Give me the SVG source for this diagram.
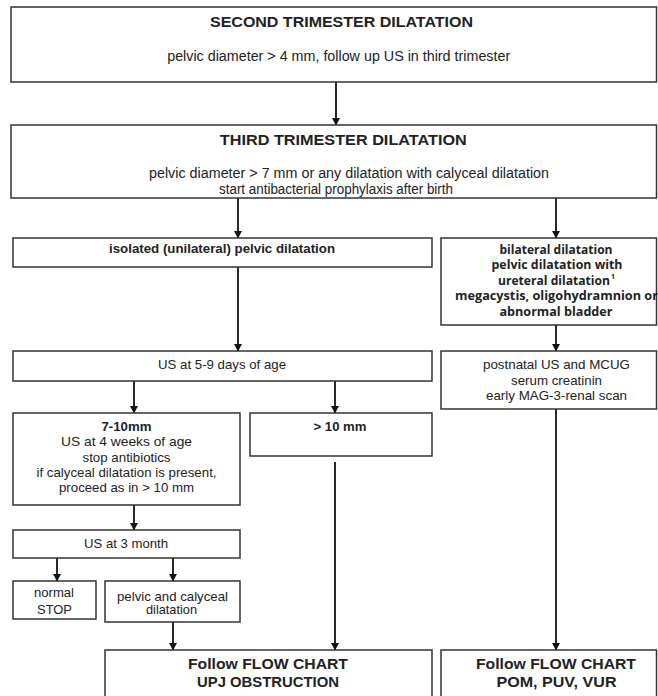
<svg xmlns="http://www.w3.org/2000/svg" width="658" height="696" viewBox="0 0 658 696">
<defs>
<marker id="ah" markerWidth="8" markerHeight="8" refX="7" refY="4" orient="auto" markerUnits="userSpaceOnUse">
<path d="M0,0 L7.5,4 L0,8 Z" fill="#111"/>
</marker>
<style>
.box{fill:#fff;stroke:#333;stroke-width:1.5}
.t{font-family:"Liberation Sans",Arial,sans-serif;fill:#222;text-anchor:middle}
.h{font-size:15.5px;font-weight:bold}
.n14{font-size:14px}
.n13{font-size:13px}
.b13{font-size:13px;font-weight:bold}
.hb{font-family:"Open Sans","Noto Sans",sans-serif;font-size:12px;font-weight:bold;fill:#222;text-anchor:middle}
.c{stroke:#111;stroke-width:1.8;fill:none;marker-end:url(#ah)}
</style>
</defs>
<rect width="658" height="696" fill="#fff"/>
<g id="connectors">
<line class="c" x1="336" y1="82" x2="336" y2="125"/>
<line class="c" x1="238" y1="198" x2="238" y2="238"/>
<line class="c" x1="556" y1="198" x2="556" y2="238"/>
<line class="c" x1="238" y1="267" x2="238" y2="351"/>
<line class="c" x1="556" y1="325" x2="556" y2="351"/>
<line class="c" x1="134" y1="381" x2="134" y2="413"/>
<line class="c" x1="335" y1="381" x2="335" y2="413"/>
<line class="c" x1="134" y1="505" x2="134" y2="530"/>
<line class="c" x1="57" y1="558" x2="57" y2="581"/>
<line class="c" x1="173" y1="558" x2="173" y2="581"/>
<line class="c" x1="173" y1="622" x2="173" y2="650"/>
<line class="c" x1="335" y1="462" x2="335" y2="650"/>
<line class="c" x1="556" y1="409" x2="556" y2="650"/>
</g>
<g id="second">
<rect class="box" x="11" y="7" width="645.5" height="75"/>
<text class="t h" x="341.5" y="27" textLength="263" lengthAdjust="spacingAndGlyphs">SECOND TRIMESTER DILATATION</text>
<text class="t n14" x="338.7" y="60.5" textLength="343" lengthAdjust="spacingAndGlyphs">pelvic diameter &gt; 4 mm, follow up US in third trimester</text>
</g>
<g id="third">
<rect class="box" x="11" y="125" width="645.5" height="73"/>
<text class="t h" x="343.3" y="145" textLength="247" lengthAdjust="spacingAndGlyphs">THIRD TRIMESTER DILATATION</text>
<text class="t n14" x="349" y="178" textLength="400" lengthAdjust="spacingAndGlyphs">pelvic diameter &gt; 7 mm or any dilatation with calyceal dilatation</text>
<text class="t n14" x="336" y="194" textLength="234" lengthAdjust="spacingAndGlyphs">start antibacterial prophylaxis after birth</text>
</g>
<g id="isolated">
<rect class="box" x="13" y="238" width="419" height="29"/>
<text class="t b13" x="222" y="253.3" textLength="226" lengthAdjust="spacingAndGlyphs">isolated (unilateral) pelvic dilatation</text>
</g>
<g id="bilateral">
<rect class="box" x="441" y="238" width="215.5" height="87"/>
<text class="hb" x="556" y="253.5" textLength="113" lengthAdjust="spacingAndGlyphs">bilateral dilatation</text>
<text class="hb" x="557" y="269" textLength="131" lengthAdjust="spacingAndGlyphs">pelvic dilatation with</text>
<text class="hb" x="554" y="284.5" textLength="112" lengthAdjust="spacingAndGlyphs">ureteral dilatation</text>
<text class="hb" x="613" y="279" style="font-size:7px">1</text>
<text class="hb" x="556.5" y="300" textLength="203" lengthAdjust="spacingAndGlyphs">megacystis, oligohydramnion or</text>
<text class="hb" x="556" y="315.5" textLength="113" lengthAdjust="spacingAndGlyphs">abnormal bladder</text>
</g>
<g id="us59">
<rect class="box" x="13" y="351" width="419" height="30"/>
<text class="t n13" x="222" y="369" textLength="128" lengthAdjust="spacingAndGlyphs">US at 5-9 days of age</text>
</g>
<g id="postnatal">
<rect class="box" x="441" y="351" width="215.5" height="58"/>
<text class="t n13" x="556.5" y="369.3" textLength="147" lengthAdjust="spacingAndGlyphs">postnatal US and MCUG</text>
<text class="t n13" x="556.5" y="384.5" textLength="91" lengthAdjust="spacingAndGlyphs">serum creatinin</text>
<text class="t n13" x="556.5" y="399.5" textLength="141" lengthAdjust="spacingAndGlyphs">early MAG-3-renal scan</text>
</g>
<g id="mm710">
<rect class="box" x="13" y="413" width="227" height="92"/>
<text class="t b13" x="126.5" y="430.7" textLength="50" lengthAdjust="spacingAndGlyphs">7-10mm</text>
<text class="t n13" x="126.5" y="446" textLength="131" lengthAdjust="spacingAndGlyphs">US at  4 weeks of age</text>
<text class="t n13" x="126.5" y="461.5" textLength="88" lengthAdjust="spacingAndGlyphs">stop antibiotics</text>
<text class="t n13" x="126.5" y="476.7" textLength="180" lengthAdjust="spacingAndGlyphs">if calyceal dilatation is present,</text>
<text class="t n13" x="126.5" y="492" textLength="135" lengthAdjust="spacingAndGlyphs">proceed as in &gt; 10 mm</text>
</g>
<g id="mm10">
<rect class="box" x="250" y="413" width="182" height="43"/>
<text class="t b13" x="340" y="430.7" textLength="53" lengthAdjust="spacingAndGlyphs">&gt; 10 mm</text>
</g>
<g id="us3">
<rect class="box" x="13" y="530" width="227" height="28"/>
<text class="t n13" x="126" y="548" textLength="84" lengthAdjust="spacingAndGlyphs">US at 3 month</text>
</g>
<g id="normal">
<rect class="box" x="13" y="581" width="83" height="38"/>
<text class="t n13" x="54" y="597" textLength="40" lengthAdjust="spacingAndGlyphs">normal</text>
<text class="t n13" x="54.5" y="613.5" textLength="35" lengthAdjust="spacingAndGlyphs">STOP</text>
</g>
<g id="pelvcal">
<rect class="box" x="105" y="581" width="135" height="41"/>
<text class="t n13" x="172.5" y="600.5" textLength="111" lengthAdjust="spacingAndGlyphs">pelvic and calyceal</text>
<text class="t n13" x="171.5" y="614" textLength="51" lengthAdjust="spacingAndGlyphs">dilatation</text>
</g>
<g id="upj">
<rect class="box" x="105" y="650" width="327" height="52"/>
<text class="t h" x="268" y="668.5" textLength="160" lengthAdjust="spacingAndGlyphs">Follow FLOW CHART</text>
<text class="t h" x="268" y="687" textLength="142" lengthAdjust="spacingAndGlyphs">UPJ OBSTRUCTION</text>
</g>
<g id="pom">
<rect class="box" x="441" y="650" width="215.5" height="52"/>
<text class="t h" x="556" y="668.5" textLength="160" lengthAdjust="spacingAndGlyphs">Follow FLOW CHART</text>
<text class="t h" x="556.5" y="687" textLength="120" lengthAdjust="spacingAndGlyphs">POM, PUV, VUR</text>
</g>
</svg>
